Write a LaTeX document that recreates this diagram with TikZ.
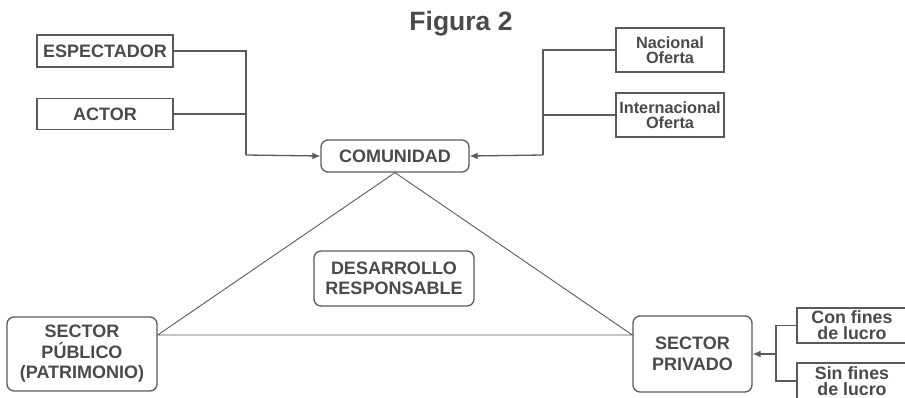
\documentclass[tikz,border=0pt]{standalone}
\usepackage{fontspec}
\setmainfont{Liberation Sans}
\usetikzlibrary{calc}
\usetikzlibrary{arrows.meta}
\definecolor{boxgray}{HTML}{5A5A5A}
\definecolor{textgray}{HTML}{4A4A4A}

\begin{document}
\begin{tikzpicture}[x=1pt, y=-1pt]
            \tikzstyle{box} = [draw=boxgray, line width=1.3pt, text=textgray, align=center, inner sep=0pt, font=\bfseries\fontsize{18}{20.5}\selectfont]
            \tikzstyle{roundbox} = [box, rounded corners=7pt]
            \tikzstyle{smallbox} = [box, font=\bfseries\fontsize{16.3}{15}\selectfont]
            \tikzstyle{link} = [draw=boxgray, line width=1.3pt]
            \tikzstyle{tip} = [-{Latex[length=8pt, width=7pt]}]
            \useasboundingbox (0, 0) rectangle (905, 398);
            \clip (0, 0) rectangle (905, 398);

            \node[text=textgray, font=\bfseries\fontsize{26.5}{28}\selectfont] (title) at (461, 24) {Figura 2};

            \node[box, minimum width=136, minimum height=32] (espectador) at (105, 51) {ESPECTADOR};
            \node[box, minimum width=136, minimum height=31] (actor) at (105, 114) {ACTOR};
            \node[roundbox, minimum width=148, minimum height=32] (comunidad) at (395, 156) {COMUNIDAD};
            \node[smallbox, minimum width=108, minimum height=44] (nacional) at (670, 50) {Nacional\\Oferta};
            \node[smallbox, minimum width=108, minimum height=44] (internacional) at (670, 115) {Internacional\\Oferta};
            \node[roundbox, minimum width=160, minimum height=55] (desarrollo) at (394, 278.5) {DESARROLLO\\RESPONSABLE};
            \node[roundbox, minimum width=150, minimum height=74] (publico) at (82, 354) {SECTOR\\PÚBLICO\\(PATRIMONIO)};
            \node[roundbox, minimum width=119, minimum height=76] (privado) at (692.5, 354) {SECTOR\\PRIVADO};
            \node[box, font=\bfseries\fontsize{17.8}{16}\selectfont, minimum width=110, minimum height=35] (con) at (852, 325.5) {Con fines\\de lucro};
            \node[box, font=\bfseries\fontsize{17.8}{16}\selectfont, minimum width=110, minimum height=36] (sin) at (852, 381) {Sin fines\\de lucro};

            \coordinate (jl) at (246, 155);
            \coordinate (jr) at (543, 155);
            \coordinate (jp) at (776, 354);
            \coordinate (tl) at (publico.east |- 0, 335);
            \coordinate (tr) at (privado.west |- 0, 335);

            \draw[link] (espectador.east) -| (jl);
            \draw[link] (actor.east) -- (actor.east -| jl);
            \draw[link, tip] (jl) -- (comunidad.west);
            \draw[link] (nacional.west) -| (jr);
            \draw[link] (internacional.west) -- (internacional.west -| jr);
            \draw[link, tip] (jr) -- (comunidad.east);
            \draw[link] (con.west) -| (jp) |- (sin.west);
            \draw[link, tip] (jp) -- (privado.east);

            \draw[draw=boxgray, line width=0.9pt] (comunidad.south) -- (tl) -- (tr) -- cycle;
        \end{tikzpicture}
\end{document}
